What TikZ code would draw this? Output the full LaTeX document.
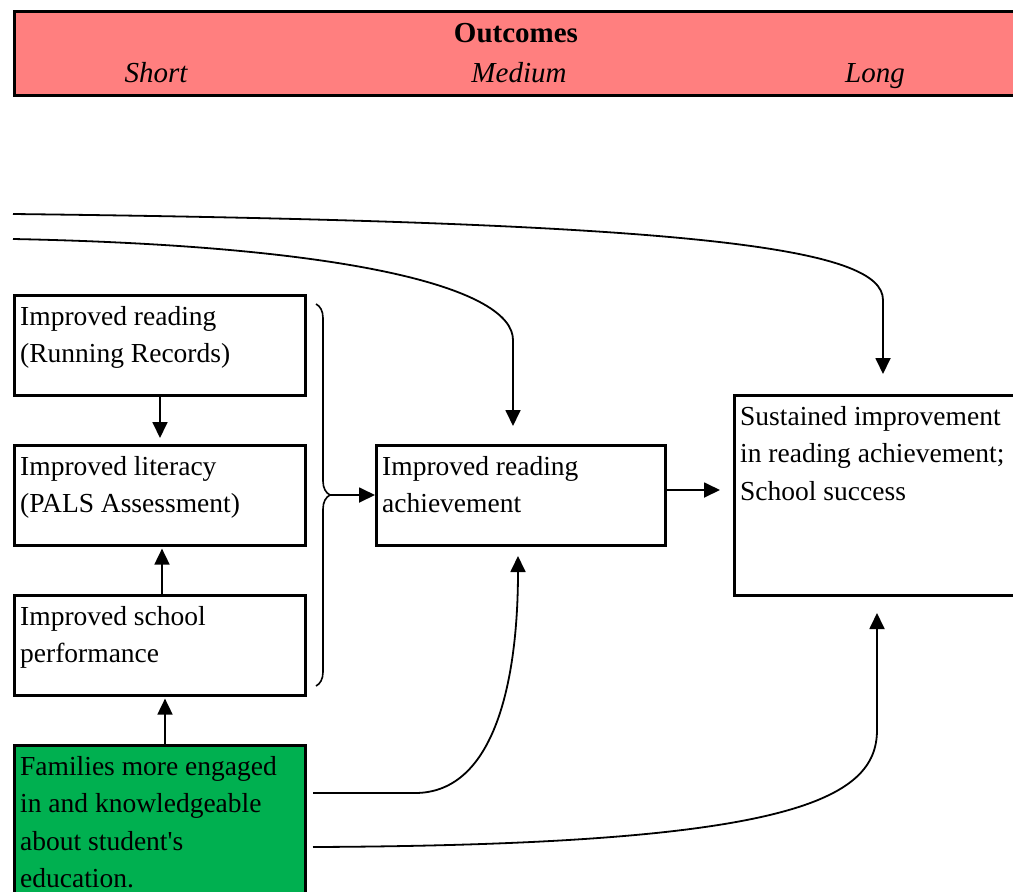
\documentclass[tikz,border=0pt]{standalone}
\usepackage{fontspec}
\setmainfont{Liberation Serif}[Ligatures=TeXOff]
\usetikzlibrary{calc,arrows.meta,decorations.pathreplacing}
\definecolor{hdrred}{RGB}{255,127,127}
\definecolor{famgreen}{RGB}{0,176,80}

\begin{document}
\begin{tikzpicture}[x=1pt,y=-1pt,
  box/.style={draw,line width=2.6pt,minimum width=291pt,minimum height=100pt,
              anchor=north west,inner sep=0pt},
  lbl/.style={anchor=north west,align=left,inner sep=0pt,
              font=\fontsize{27.5}{37.5}\selectfont},
  hdrtxt/.style={anchor=base,inner sep=0pt,font=\fontsize{29}{34}\selectfont},
  conn/.style={line width=1.8pt},
  arr/.style={conn,-{Triangle[length=16pt,width=15pt]}}]

\useasboundingbox (0,0) rectangle (1013,892);
\clip (0,0) rectangle (1013,892);

% header band
\node[draw,fill=hdrred,line width=3pt,minimum width=1020pt,minimum height=84pt,
      anchor=north west,inner sep=0pt] (hdr) at (13,10) {};
\node[hdrtxt,font=\fontsize{29}{34}\selectfont\bfseries] (tout) at (516,42) {Outcomes};
\node[hdrtxt,font=\fontsize{29}{34}\selectfont\itshape] (tshort) at (156,82) {Short};
\node[hdrtxt,font=\fontsize{29}{34}\selectfont\itshape] (tmed) at (519,82) {Medium};
\node[hdrtxt,font=\fontsize{29}{34}\selectfont\itshape] (tlong) at (875,82) {Long};

% short-term outcome boxes
\node[box] (b1) at (13,294) {};
\node[lbl] (l1) at ($(b1.north west)+(7,12)$) {Improved reading\\(Running Records)};
\node[box] (b2) at (13,444) {};
\node[lbl] (l2) at ($(b2.north west)+(7,12)$) {Improved literacy\\(PALS Assessment)};
\node[box] (b3) at (13,594) {};
\node[lbl] (l3) at ($(b3.north west)+(7,12)$) {Improved school\\performance};
\node[box,fill=famgreen,minimum height=160pt] (fam) at (13,744) {};
\node[lbl] (l4) at ($(fam.north west)+(7,12)$) {Families more engaged\\in and knowledgeable\\about student's\\education.};

% medium and long-term boxes
\node[box,minimum width=289pt] (med) at (375,444) {};
\node[lbl] (l5) at ($(med.north west)+(7,12)$) {Improved reading\\achievement};
\node[box,minimum width=300pt,minimum height=200pt] (long) at (733,394) {};
\node[lbl] (l6) at ($(long.north west)+(7,12)$) {Sustained improvement\\in reading achievement;\\School success};

% vertical links among short-term boxes
\draw[arr] (b1.south -| 160,0) -- ($(b2.north -| 160,0)+(0,-6)$);
\draw[arr] (b3.north -| 162,0) -- ($(b2.south -| 162,0)+(0,2)$);
\draw[arr] (fam.north -| 165,0) -- ($(b3.south -| 165,0)+(0,2)$);

% brace grouping the short-term outcomes
\draw[line width=1.6pt,decorate,decoration={brace,amplitude=14pt}]
  (316,304) -- (316,686);
\coordinate (bt) at (330,495);
\draw[arr] (bt) -- (med.west |- bt);
\draw[arr] (med.east |- 0,490) -- (720,490);

% long-range links entering from the left
\coordinate (s1) at (13,214);
\coordinate (t1) at (883,374);
\draw[arr] (s1) .. controls (700,222) and (883,248) .. (883,300) -- (t1);
\coordinate (s2) at (13,239);
\coordinate (t2) at (513,426);
\draw[arr] (s2) .. controls (360,246) and (513,290) .. (513,340) -- (t2);

% links from family engagement
\coordinate (s3) at (313,793);
\coordinate (t3) at (518,556);
\draw[arr] (s3) -- (415,793) .. controls (495,793) and (518,680) .. (t3);
\coordinate (s4) at (313,847);
\coordinate (t4) at (877,613);
\draw[arr] (s4) .. controls (790,845) and (877,800) .. (877,730) -- (t4);
\end{tikzpicture}
\end{document}
